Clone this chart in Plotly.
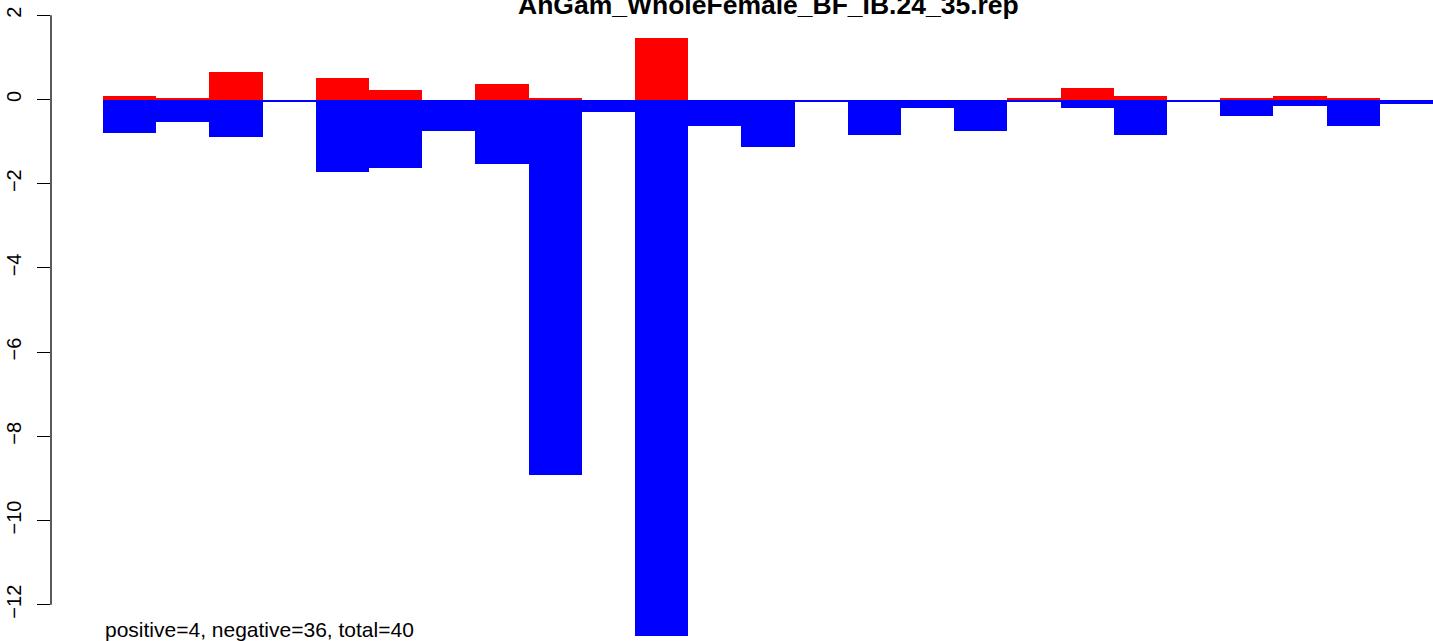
import numpy as np
import plotly.graph_objects as go

title_text = "AnGam_WholeFemale_BF_IB.24_35.rep"
footer_text = "positive=4, negative=36, total=40"

# one value per bar slot (25 slots)
pos_values = [0.08, 0.04, 0.65, 0.0, 0.51, 0.23, 0.0, 0.37, 0.04, 0.0,
              1.46, 0.0, 0.0, 0.0, 0.0, 0.0, 0.0, 0.04, 0.27, 0.08,
              0.0, 0.04, 0.08, 0.04, 0.0]
neg_values = [-0.79, -0.53, -0.88, -0.06, -1.72, -1.63, -0.75, -1.53, -8.91, -0.30,
              -12.74, -0.63, -1.13, -0.06, -0.84, -0.20, -0.75, -0.06, -0.20, -0.84,
              -0.06, -0.39, -0.15, -0.63, -0.11]
y_ticks = [2, 0, -2, -4, -6, -8, -10, -12]

n = len(pos_values)
x = np.arange(n) + 0.5

FONT = "Liberation Sans, Arial, Helvetica, sans-serif"

fig = go.Figure()
fig.add_trace(go.Bar(x=x, y=pos_values, width=1, marker=dict(color="#ff0000", line=dict(width=0)),
                     showlegend=False))
fig.add_trace(go.Bar(x=x, y=neg_values, width=1, marker=dict(color="#0000ff", line=dict(width=0)),
                     showlegend=False))

L, W, H = 51, 1433, 641
px_per_x = 53.2
x_left = (L - 103) / px_per_x
x_right = (W - 103) / px_per_x
px_per_y = 42.1
zero_px = 99.5
y_top = zero_px / px_per_y
y_bot = -(H - zero_px) / px_per_y

fig.update_layout(
    width=W, height=H,
    margin=dict(l=L, r=0, t=0, b=0, autoexpand=False),
    plot_bgcolor="white", paper_bgcolor="white",
    barmode="overlay",
    bargap=0,
    xaxis=dict(range=[x_left, x_right], visible=False, automargin=False),
    yaxis=dict(range=[y_bot, y_top], tickvals=y_ticks, ticktext=[str(v).replace("-", "\u2212") for v in y_ticks],
               ticks="outside", ticklen=13, tickwidth=1.3, tickcolor="black",
               tickangle=-90, tickfont=dict(family=FONT, size=20, color="black"),
               ticklabelstandoff=8,
               automargin=False,
               showgrid=False, zeroline=False, showline=False),
    font=dict(family=FONT),
)

fig.add_shape(type="line", xref="paper", yref="y", x0=0, x1=0, y0=min(y_ticks), y1=max(y_ticks),
              line=dict(color="black", width=1.3))

# title centred on the full R plot region [-1, n+1]
fig.add_annotation(text="<b>" + title_text + "</b>", xref="x", yref="paper",
                   x=(n + 0) / 2, y=1 - 22 / H, xanchor="center", yanchor="bottom",
                   showarrow=False, font=dict(family=FONT, size=26.5, color="black"))
fig.add_annotation(text=footer_text, xref="x", yref="paper",
                   x=0, y=-2 / H, xanchor="left", yanchor="bottom",
                   showarrow=False, font=dict(family=FONT, size=21, color="black"))

fig.write_html("out.html", post_script="document.body.style.margin='0';",
               config={"displayModeBar": False})
